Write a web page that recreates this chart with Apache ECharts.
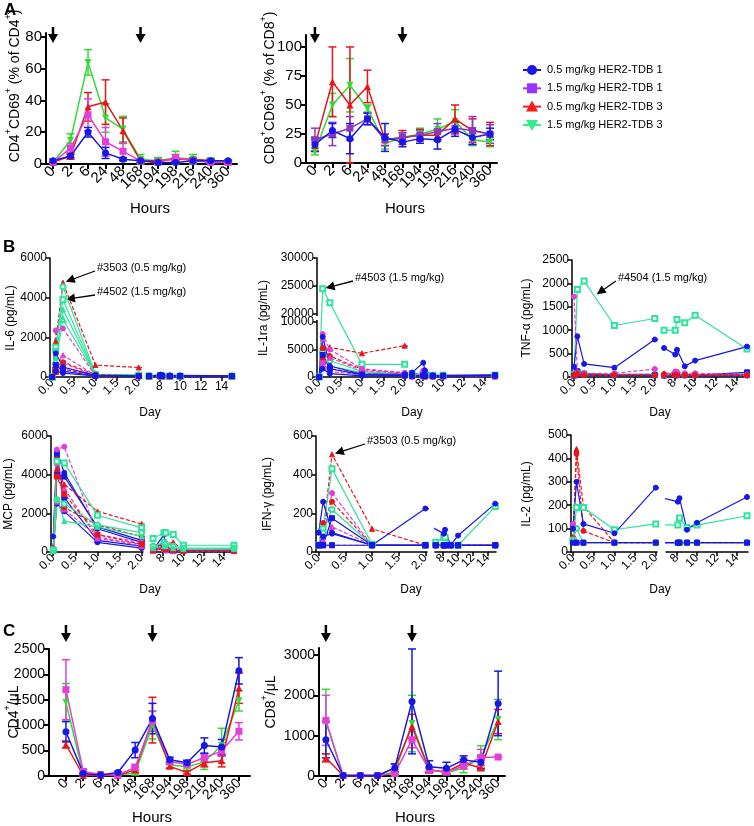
<!DOCTYPE html>
<html><head><meta charset="utf-8">
<script src="https://cdn.jsdelivr.net/npm/echarts@6/dist/echarts.min.js"></script>
<style>html,body{margin:0;padding:0;background:#fff}#c{width:754px;height:826px}</style>
</head><body><div id="c"></div>
<script>
// ---------------- DATA ----------------
const hourLabels = ['0','2','6','24','48','168','194','198','216','240','360'];
const legendNames = ['0.5 mg/kg HER2-TDB 1','1.5 mg/kg HER2-TDB 1','0.5 mg/kg HER2-TDB 3','1.5 mg/kg HER2-TDB 3'];

// Panel A: CD4+CD69+ (% of CD4+)
const a4_blue = [2,5,20,7,3,2,1,1,2,2,2];
const a4_blue_err = [1,1,3,3.5,1,1,0.5,0.5,1,1,0.5];
const a4_mag = [1,10,31,14,8,2,1,4,2,1,1];
const a4_mag_err = [0.5,3,10,9,5,1,0.5,2,1,0.5,0.5];
const a4_red = [1,5,36,39,21,2,2,3,3,2,2];
const a4_red_err = [0.5,2,9,14,8,1,1,1,1,1,0.5];
const a4_grn = [1,15,64,29,22,3,2,4,3,2,1];
const a4_grn_err = [0.5,4,8,9,8,3,2,4,3,1.5,1];
// Panel A: CD8+CD69+ (% of CD8+)
const a8_blue = [16,28,21,38,22,18,21,20,29,22,25];
const a8_blue_err = [6,6,13,5,12,4,4,8,6,6,5];
const a8_pur = [20,25,30,38,20,22,24,27,30,28,25];
const a8_pur_err = [10,10,10,5,5,4,4,7,5,12,8];
const a8_red = [15,70,50,66,20,22,24,24,38,28,25];
const a8_red_err = [5,30,50,14,5,6,5,5,12,10,10];
const a8_grn = [10,50,67,47,17,22,25,29,36,20,18];
const a8_grn_err = [3,10,23,3,5,4,5,9,10,5,4];
// Panel C: CD4+/uL
const c4_blue = [870,50,20,70,510,1130,320,260,600,570,2070];
const c4_blue_err = [200,20,10,20,150,300,50,50,150,150,260];
const c4_mag = [1700,90,30,20,170,1080,280,230,360,490,880];
const c4_mag_err = [590,40,10,10,60,200,50,50,80,100,170];
const c4_red = [620,10,10,10,120,1100,190,70,260,300,1730];
const c4_red_err = [70,10,5,5,60,450,40,30,80,120,300];
const c4_grn = [1450,30,20,20,60,1000,220,180,280,600,1480];
const c4_grn_err = [370,20,10,10,40,270,50,40,150,340,200];
// Panel C: CD8+/uL
const c8_blue = [900,10,10,10,200,1850,230,190,400,340,1800];
const c8_blue_err = [450,5,5,5,100,1300,150,150,100,150,800];
const c8_mag = [1380,10,10,10,60,900,150,100,250,460,470];
const c8_mag_err = [620,5,5,5,40,200,60,40,80,200,0];
const c8_red = [450,10,10,10,200,1230,150,100,320,200,1350];
const c8_red_err = [100,5,5,5,100,300,50,40,80,60,300];
const c8_grn = [1350,10,10,10,100,1300,160,80,200,450,1400];
const c8_grn_err = [800,5,5,5,60,700,60,40,120,300,500];

// Panel B: individual animals, sampling days
const days = [0, 0.083, 0.25, 1, 2, 7, 8.08, 8.25, 9, 10, 15];
// group: 0 = 0.5 TDB1 (blue), 1 = 1.5 TDB1 (magenta), 2 = 0.5 TDB3 (red), 3 = 1.5 TDB3 (green)
const il6_rows = [
 [0,1800,4750,600,480,60,70,60,50,50,40],
 [0,1500,3900,120,90,50,60,50,40,40,40],
 [0,1300,4550,150,100,60,60,50,40,40,40],
 [0,1000,3400,120,80,50,50,50,40,40,40],
 [0,800,2900,100,70,50,50,40,40,40,40],
 [0,2350,2450,60,50,40,50,40,40,40,40],
 [0,600,1100,80,50,40,40,40,40,40,40],
 [0,300,700,60,40,40,40,40,40,40,40],
 [0,500,750,120,60,40,50,40,40,40,40],
 [0,250,400,60,40,40,40,40,40,40,40],
 [0,1200,500,80,60,50,120,100,80,80,60],
 [0,600,300,60,50,40,80,60,50,50,50],
 [0,300,200,50,40,30,50,40,40,40,40]];
const il6_group = [2,3,3,3,3,1,1,1,2,2,0,0,0];
const il6_ticks = [0,2000,4000,6000];

const il1ra_rows = [
 [0,24500,22000,2300,2300,600,500,400,300,300,300],
 [0,4500,3000,1000,500,300,200,200,200,200,200],
 [0,3200,2000,800,400,300,600,300,200,200,300],
 [0,5500,5400,4300,5700,400,300,200,200,200,200],
 [0,5200,3800,1400,700,200,300,200,150,150,150],
 [0,3000,1500,600,300,150,150,100,100,100,100],
 [0,7800,5000,1500,800,300,1200,500,300,200,200],
 [0,7000,3500,1200,600,200,400,200,200,150,150],
 [0,2500,1000,400,300,100,200,100,100,100,100],
 [0,7300,2000,500,500,800,2600,1200,300,300,400],
 [0,4000,1500,400,300,200,300,200,200,200,300],
 [0,1500,600,200,200,100,150,100,100,100,200]];
const il1ra_group = [3,3,3,2,2,2,1,1,1,0,0,0];
const il1ra_ticks = [0,5000,10000,20000,25000,30000];

const tnf_rows = [
 [50,1870,2050,1100,1250,1000,1000,1230,1160,1320,600],
 [40,120,80,60,60,50,70,60,50,50,60],
 [220,870,280,200,800,620,480,580,230,350,650],
 [30,120,60,40,40,30,40,40,40,40,100],
 [30,40,40,30,30,30,30,30,30,30,30],
 [1720,100,80,80,170,60,120,110,80,80,50],
 [40,90,60,50,60,40,60,50,50,50,40],
 [60,100,60,50,50,80,60,50,50,50,50],
 [30,60,40,40,40,40,40,40,40,40,40]];
const tnf_group = [3,3,0,0,0,1,1,2,2];
const tnf_ticks = [0,500,1000,1500,2000,2500];

const mcp_rows = [
 [800,5200,4100,1200,500,100,900,300,100,80,150],
 [100,5000,2800,600,300,50,500,100,50,50,50],
 [50,2500,2100,500,200,50,200,80,50,50,50],
 [60,4000,3900,1300,600,80,300,100,50,50,50],
 [200,5300,5450,900,500,100,300,200,100,100,100],
 [100,4600,3300,700,400,80,200,150,80,80,80],
 [100,2600,2200,800,300,60,150,100,60,60,60],
 [250,4300,3500,2100,1450,300,400,300,500,100,100],
 [100,4800,2300,1400,800,150,250,200,150,80,80],
 [50,3900,3000,900,400,100,200,150,100,60,60],
 [100,4700,4600,1900,1250,700,1000,1000,900,350,350],
 [100,2700,2500,1400,1000,300,500,400,300,200,200],
 [50,2700,1600,1300,800,200,300,300,200,150,150]];
const mcp_group = [0,0,0,0,1,1,1,2,2,2,3,3,3];
const mcp_ticks = [0,2000,4000,6000];

const ifn_rows = [
 [35,100,505,120,35,35,35,35,35,35,35],
 [35,150,260,35,35,35,35,35,35,35,35],
 [35,120,430,40,35,50,75,75,35,35,235],
 [35,100,220,35,35,35,35,35,35,35,35],
 [35,80,305,35,35,35,35,35,35,35,35],
 [35,60,130,35,35,35,35,35,35,35,35],
 [35,35,35,35,35,35,35,35,35,35,35],
 [100,260,100,35,225,null,95,115,35,85,250],
 [35,35,175,35,35,35,35,35,35,35,35],
 [35,80,95,35,35,35,35,35,35,35,35],
 [35,35,35,35,35,35,35,35,35,35,35]];
const ifn_group = [2,2,3,3,1,1,1,0,0,0,0];
const ifn_ticks = [0,200,400,600];

const il2_rows = [
 [60,440,195,40,40,null,40,40,40,40,40],
 [60,420,90,40,40,null,40,40,40,40,40],
 [50,190,190,95,120,null,115,145,105,115,155],
 [50,100,40,40,40,null,40,40,40,40,40],
 [120,40,40,40,40,null,40,40,40,40,40],
 [100,300,120,80,275,null,215,230,95,125,235],
 [40,40,40,40,40,null,40,40,40,40,40]];
const il2_group = [2,2,3,3,1,0,0];
const il2_ticks = [0,100,200,300,400,500];

// ---------------- STYLE / LAYOUT ----------------
const FONT = '"Liberation Sans", Arial, Helvetica, sans-serif';
const BLUE='#1717e6', MAG='#e23fd6', PUR='#8c35c0', RED='#e8161c', GRN='#35d935', MINT='#2ee39a';
const grids=[], xAxes=[], yAxes=[], series=[];
const blk = {color:'#000', width:2};

// label values padded with empty labels at both ends so no real label is auto-hidden
function padVals(vals, mn, mx){ return [mn+(mx-mn)*0.002, ...vals, mx-(mx-mn)*0.002]; }
function padFmt(vals, f){ return v => { for (const t of vals) if (Math.abs(t-v)<1e-6) return f(t); return ''; }; }

function errSeries(g, vals, errs, color){
  return {type:'custom', xAxisIndex:g, yAxisIndex:g, clip:false, silent:true, z:2,
    encode:{x:0,y:1},
    data: vals.map((v,i)=>[i,v,errs[i]]),
    renderItem:(p,api)=>{
      const x=api.value(0), y=api.value(1), e=api.value(2);
      const t=api.coord([x,y+e]), b=api.coord([x,Math.max(0,y-e)]);
      const hw=4, st={stroke:color,lineWidth:1.5};
      return {type:'group',children:[
        {type:'line',shape:{x1:t[0],y1:t[1],x2:b[0],y2:b[1]},style:st},
        {type:'line',shape:{x1:t[0]-hw,y1:t[1],x2:t[0]+hw,y2:t[1]},style:st},
        {type:'line',shape:{x1:b[0]-hw,y1:b[1],x2:b[0]+hw,y2:b[1]},style:st}]};
    }};
}
function catPanel(left,right,top,bot,xmin,xmax,ymax,yticks,fs,sets){
  const g=grids.length;
  grids.push({left,top,width:right-left,height:bot-top,outerBoundsMode:'none'});
  const idx=hourLabels.map((_,i)=>i);
  xAxes.push({type:'value',gridIndex:g,min:xmin,max:xmax,
    axisLine:{show:true,onZero:false,lineStyle:blk},
    axisTick:{show:true,customValues:idx,length:5,lineStyle:blk},
    axisLabel:{customValues:padVals(idx,xmin,xmax),formatter:padFmt(idx,t=>hourLabels[t]),rotate:45,fontSize:fs,color:'#000',fontFamily:FONT,margin:5},
    splitLine:{show:false}});
  yAxes.push({type:'value',gridIndex:g,min:0,max:ymax,
    axisLine:{show:true,onZero:false,lineStyle:blk},
    axisTick:{show:true,customValues:yticks,length:5,lineStyle:blk},
    axisLabel:{customValues:padVals(yticks,0,ymax),formatter:padFmt(yticks,t=>String(t)),fontSize:fs,color:'#000',fontFamily:FONT,margin:4},
    splitLine:{show:false}});
  sets.forEach(s=>{
    series.push(errSeries(g,s.v,s.e,s.c));
    series.push({type:'line',xAxisIndex:g,yAxisIndex:g,data:s.v.map((v,i)=>[i,v]),
      symbol:s.sym,symbolSize:7,symbolRotate:s.rot||0,z:3,silent:true,
      lineStyle:{color:s.c,width:1.5},itemStyle:{color:s.c}});
  });
  return g;
}
const gA4 = catPanel(46,237,33,164,-0.4,10.51,82.5,[0,20,40,60,80],15,[
  {v:a4_grn,e:a4_grn_err,c:GRN,sym:'triangle',rot:180},
  {v:a4_red,e:a4_red_err,c:RED,sym:'triangle'},
  {v:a4_mag,e:a4_mag_err,c:MAG,sym:'rect'},
  {v:a4_blue,e:a4_blue_err,c:BLUE,sym:'circle'}]);
const gA8 = catPanel(306,497,35,163,-0.51,10.4,110.3,[0,25,50,75,100],15,[
  {v:a8_grn,e:a8_grn_err,c:GRN,sym:'triangle',rot:180},
  {v:a8_red,e:a8_red_err,c:RED,sym:'triangle'},
  {v:a8_pur,e:a8_pur_err,c:PUR,sym:'rect'},
  {v:a8_blue,e:a8_blue_err,c:BLUE,sym:'circle'}]);
const gC4 = catPanel(49,250,649,776,-0.98,10.64,2500,[0,500,1000,1500,2000,2500],14,[
  {v:c4_grn,e:c4_grn_err,c:GRN,sym:'triangle',rot:180},
  {v:c4_red,e:c4_red_err,c:RED,sym:'triangle'},
  {v:c4_mag,e:c4_mag_err,c:MAG,sym:'rect'},
  {v:c4_blue,e:c4_blue_err,c:BLUE,sym:'circle'}]);
const gC8 = catPanel(319,505,648,776,-0.4,10.4,3174,[0,1000,2000,3000],14,[
  {v:c8_grn,e:c8_grn_err,c:GRN,sym:'triangle',rot:180},
  {v:c8_red,e:c8_red_err,c:RED,sym:'triangle'},
  {v:c8_mag,e:c8_mag_err,c:MAG,sym:'rect'},
  {v:c8_blue,e:c8_blue_err,c:BLUE,sym:'circle'}]);

// Panel B
const gColors=[BLUE,MAG,RED,MINT];
const gSyms=[['circle','rect','circle','rect'],['circle','triangle','rect'],['triangle','circle','rect'],['emptyRect','emptyCircle','triangle','emptyTriangle']];
const bl = {color:'#000', width:1.5};
const IL1RA_GAP = 1455, IL1RA_UP = 1.018;
function tfBreak(v){ if(v<=10000) return v; if(v>=20000) return 10000+IL1RA_GAP+(v-20000)*IL1RA_UP; return 10000+(v-10000)*IL1RA_GAP/10000; }
function bPanel(cfg){
  const tf = cfg.brk ? tfBreak : (v=>v);
  const ymax = tf(cfg.ticks[cfg.ticks.length-1]);
  const yt = cfg.ticks.map(tf);
  const res={};
  [['L',-0.05,2.03,[0,0.5,1,1.5,2],v=>v.toFixed(1),45],['R',6.9,15.1,[8,10,12,14],v=>String(v),cfg.rightRot]].forEach(([side,mn,mx,xt,fmt,rot])=>{
    const g=grids.length; res[side]=g;
    const p=cfg[side];
    grids.push({left:p[0],top:cfg.top,width:p[1]-p[0],height:cfg.bot-cfg.top,outerBoundsMode:'none'});
    xAxes.push({type:'value',gridIndex:g,min:mn,max:mx,
      axisLine:{show:true,onZero:false,lineStyle:bl},
      axisTick:{show:true,customValues:xt,length:4,lineStyle:bl},
      axisLabel:{customValues:padVals(xt,mn,mx),formatter:padFmt(xt,fmt),rotate:rot,fontSize:12,color:'#000',fontFamily:FONT,margin:4},
      splitLine:{show:false}});
    yAxes.push({type:'value',gridIndex:g,min:0,max:ymax,show:side==='L',
      axisLine:{show:true,onZero:false,lineStyle:bl},
      axisTick:{show:true,customValues:yt,length:4,lineStyle:bl},
      axisLabel:{customValues:padVals(yt,0,ymax),formatter:padFmt(yt,t=>String(cfg.ticks[yt.indexOf(t)])),
        fontSize:12,color:'#000',fontFamily:FONT,margin:3},
      splitLine:{show:false}});
    const cnt=[0,0,0,0];
    cfg.rows.forEach((r,k)=>{
      const grp=cfg.groups[k]; const c=gColors[grp]; const sym=gSyms[grp][cnt[grp]++%gSyms[grp].length];
      const data=[]; r.forEach((v,i)=>{ if(v!==null) data.push([days[i],tf(v)]); });
      series.push({type:'line',xAxisIndex:g,yAxisIndex:g,data,symbol:sym,symbolSize:5,silent:true,z:3,
        lineStyle:{color:c,width:1.2,type:(grp===1||grp===2)?[4,2]:'solid'},itemStyle:{color:c,borderColor:c,borderWidth:1}});
    });
  });
  return res;
}
const bIL6 = bPanel({rows:il6_rows,groups:il6_group,ticks:il6_ticks,L:[50,140],R:[148,233],top:258,bot:377,rightRot:0});
const bIL1 = bPanel({rows:il1ra_rows,groups:il1ra_group,ticks:il1ra_ticks,L:[317,406],R:[411,496],top:258,bot:377,rightRot:45,brk:true});
const bTNF = bPanel({rows:tnf_rows,groups:tnf_group,ticks:tnf_ticks,L:[572,656],R:[663,748],top:260,bot:377,rightRot:45});
const bMCP = bPanel({rows:mcp_rows,groups:mcp_group,ticks:mcp_ticks,L:[51,143],R:[152,235],top:436,bot:552,rightRot:45});
const bIFN = bPanel({rows:ifn_rows,groups:ifn_group,ticks:ifn_ticks,L:[316,427],R:[435,496],top:436,bot:552,rightRot:45});
const bIL2 = bPanel({rows:il2_rows,groups:il2_group,ticks:il2_ticks,L:[571,657],R:[666,748],top:435,bot:552,rightRot:45});

const chart = echarts.init(document.getElementById('c'), null, {renderer:'canvas',width:754,height:826});
chart.setOption({animation:false,backgroundColor:'#fff',grid:grids,xAxis:xAxes,yAxis:yAxes,series});

// ---------------- GRAPHICS (labels, arrows, legend) ----------------
const G=[];
function txt(x,y,text,fs,opt={}){ G.push({type:'text',x,y,rotation:opt.rot||0,silent:true,
  style:{text,fill:'#000',font:(opt.bold?'bold ':'')+fs+'px '+FONT,align:opt.align||'center',verticalAlign:opt.va||'middle',rich:opt.rich}}); }
function supText(x,y,text,fs){
  G.push({type:'text',x,y,rotation:Math.PI/2,silent:true,
    style:{text,align:'center',verticalAlign:'middle',fill:'#000',font:fs+'px '+FONT,
      rich:{n:{fontSize:fs,fontFamily:FONT,fill:'#000',lineHeight:fs+4,verticalAlign:'bottom'},
            s:{fontSize:Math.round(fs*0.65),fontFamily:FONT,fill:'#000',lineHeight:fs+4,verticalAlign:'top'}}}});
}
function arrow(x1,y1,x2,y2,head,hw,lw){
  const dx=x2-x1,dy=y2-y1,L=Math.hypot(dx,dy),ux=dx/L,uy=dy/L;
  const bx=x2-ux*head,by=y2-uy*head;
  G.push({type:'line',silent:true,shape:{x1,y1,x2:bx+ux*1,y2:by+uy*1},style:{stroke:'#000',lineWidth:lw}});
  G.push({type:'polygon',silent:true,shape:{points:[[x2,y2],[bx-uy*hw,by+ux*hw],[bx+uy*hw,by-ux*hw]]},style:{fill:'#000'}});
}
function px(g,pt){ return chart.convertToPixel({gridIndex:g},pt); }

txt(4,10,'A',17,{bold:true,align:'left'});
txt(3,247,'B',17,{bold:true,align:'left'});
txt(3,631,'C',17,{bold:true,align:'left'});
[[gA4,27,43],[gA8,27,43],[gC4,625,642],[gC8,625,642]].forEach(([g,y1,y2])=>{
  [0,5].forEach(i=>{ const x=px(g,[i,0])[0]; arrow(x,y1,x,y2,9,5,2.5); });
});
supText(13,86,'{n|CD4}{s|+}{n|CD69}{s|+}{n| (% of CD4}{s|+}{n|)}',14);
supText(268,88,'{n|CD8}{s|+}{n|CD69}{s|+}{n| (% of CD8}{s|+}{n|)}',14);
supText(12,712,'{n|CD4}{s|+}{n|/μL}',14);
supText(269,702,'{n|CD8}{s|+}{n|/μL}',14);
txt(150,209,'Hours',15); txt(405,209,'Hours',15);
txt(152,818,'Hours',15); txt(415,818,'Hours',15);
[['IL-6 (pg/mL)',11,318],['IL-1ra (pg/mL)',264,318],['TNF-α (pg/mL)',527,318],
 ['MCP (pg/mL)',9,494],['IFN-γ (pg/mL)',268,494],['IL-2 (pg/mL)',527,494]].forEach(([t,x,y])=>txt(x,y,t,12,{rot:Math.PI/2}));
[[150,413],[412,413],[660,413],[150,590],[411,590],[660,590]].forEach(([x,y])=>txt(x,y,'Day',12));
(function(){ const a=px(bIL1.L,[-0.05,tfBreak(10000)]), b=px(bIL1.L,[-0.05,tfBreak(20000)]);
  G.push({type:'rect',silent:true,z:100,shape:{x:a[0]-3,y:b[1]+2,width:6,height:a[1]-b[1]-4},style:{fill:'#fff'}}); })();
function annot(text,tx,ty,g,pt){ txt(tx,ty,text,11,{align:'left'}); const p=px(g,pt);
  const t=[tx-2,ty+3]; const dx=p[0]-t[0],dy=p[1]-t[1],L=Math.hypot(dx,dy);
  arrow(t[0],t[1],p[0]-dx/L*3,p[1]-dy/L*3,9,4.5,1.3); }
annot('#3503 (0.5 mg/kg)',97,268,bIL6.L,[days[2],il6_rows[0][2]]);
annot('#4502 (1.5 mg/kg)',97,292,bIL6.L,[days[2],il6_rows[1][2]]);
annot('#4503 (1.5 mg/kg)',355,278,bIL1.L,[days[1],tfBreak(il1ra_rows[0][1])]);
annot('#4504 (1.5 mg/kg)',618,278,bTNF.L,[0.5,tnf_rows[0][2]+(tnf_rows[0][3]-tnf_rows[0][2])*(0.5-days[2])/(days[3]-days[2])]);
annot('#3503 (0.5 mg/kg)',367,441,bIFN.L,[days[2],ifn_rows[0][2]]);
const legCols=[BLUE,'#9933ff','#ff1a1a','#33ee88'];
legendNames.forEach((n,i)=>{
  const y=70+i*18.3, x=532, c=legCols[i];
  G.push({type:'line',silent:true,shape:{x1:x-9,y1:y,x2:x+9,y2:y},style:{stroke:c,lineWidth:2}});
  if(i===0) G.push({type:'circle',silent:true,shape:{cx:x,cy:y,r:5},style:{fill:c}});
  if(i===1) G.push({type:'rect',silent:true,shape:{x:x-5,y:y-5,width:10,height:10},style:{fill:c}});
  if(i===2) G.push({type:'polygon',silent:true,shape:{points:[[x,y-6],[x-6,y+5],[x+6,y+5]]},style:{fill:c}});
  if(i===3) G.push({type:'polygon',silent:true,shape:{points:[[x,y+6],[x-6,y-5],[x+6,y-5]]},style:{fill:c}});
  txt(547,y,n,11,{align:'left'});
});
chart.setOption({graphic:{elements:G}});
</script></body></html>
